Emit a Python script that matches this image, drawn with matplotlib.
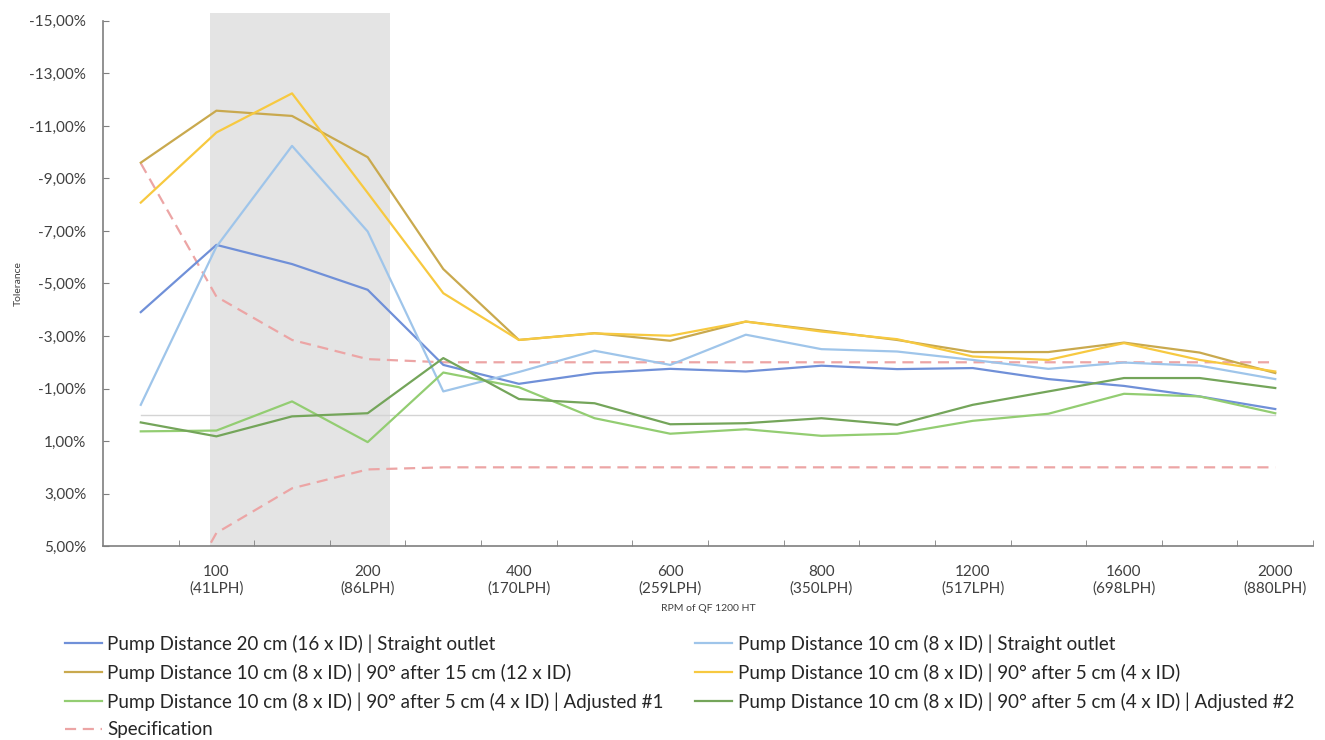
import matplotlib
matplotlib.use("Agg")
import matplotlib.pyplot as plt
from matplotlib.patches import Rectangle
from matplotlib.ticker import FixedLocator, FuncFormatter

# ---------------- data ----------------
rpm = [50, 100, 150, 200, 300, 400, 500, 600, 700, 800, 1000, 1200, 1400, 1600, 1800, 2000]
tick_labels = ["", "100\n(41LPH)", "", "200\n(86LPH)", "", "400\n(170LPH)", "", "600\n(259LPH)", "",
               "800\n(350LPH)", "", "1200\n(517LPH)", "", "1600\n(698LPH)", "", "2000\n(880LPH)"]

s_20cm_straight = [-3.91, -6.47, -5.74, -4.76, -1.90, -1.18, -1.59, -1.75, -1.65, -1.87, -1.74, -1.78, -1.36, -1.10, -0.70, -0.22]
s_10cm_straight = [-0.38, -6.40, -10.24, -6.98, -0.89, -1.63, -2.44, -1.90, -3.05, -2.50, -2.41, -2.09, -1.75, -1.99, -1.87, -1.36]
s_90_15cm = [-9.60, -11.58, -11.38, -9.81, -5.55, -2.85, -3.11, -2.82, -3.55, -3.21, -2.85, -2.39, -2.39, -2.75, -2.37, -1.59]
s_90_5cm = [-8.08, -10.75, -12.24, -8.45, -4.63, -2.85, -3.10, -3.01, -3.55, -3.17, -2.88, -2.22, -2.09, -2.73, -2.09, -1.65]
s_adj1 = [0.63, 0.60, -0.51, 1.04, -1.61, -1.05, 0.13, 0.72, 0.55, 0.80, 0.72, 0.23, -0.04, -0.80, -0.70, -0.06]
s_adj2 = [0.29, 0.82, 0.06, -0.06, -2.16, -0.60, -0.44, 0.36, 0.32, 0.13, 0.38, -0.38, -0.89, -1.40, -1.40, -1.02]
spec_upper = [-9.58, -4.50, -2.85, -2.12, -2.0, -2.0, -2.0, -2.0, -2.0, -2.0, -2.0, -2.0, -2.0, -2.0, -2.0, -2.0]
spec_lower = [9.58, 4.50, 2.80, 2.08, 2.0, 2.0, 2.0, 2.0, 2.0, 2.0, 2.0, 2.0, 2.0, 2.0, 2.0, 2.0]
zero_line = [0.0] * 16

labels = [
    "Pump Distance 20 cm (16 x ID) | Straight outlet",
    "Pump Distance 10 cm (8 x ID) | Straight outlet",
    "Pump Distance 10 cm (8 x ID) | 90° after 15 cm (12 x ID)",
    "Pump Distance 10 cm (8 x ID) | 90° after 5 cm (4 x ID)",
    "Pump Distance 10 cm (8 x ID) | 90° after 5 cm (4 x ID) | Adjusted #1",
    "Pump Distance 10 cm (8 x ID) | 90° after 5 cm (4 x ID) | Adjusted #2",
    "Specification",
]
yticks = [-15, -13, -11, -9, -7, -5, -3, -1, 1, 3, 5]

# ---------------- figure ----------------
plt.rcParams['font.family'] = ['Lato', 'DejaVu Sans']
fig = plt.figure(figsize=(13.25, 7.40), dpi=100)
ax = fig.add_axes([0.0777, 0.262, 0.9133, 0.7098])

x = list(range(len(rpm)))

# shaded region
ax.add_patch(Rectangle((0.91, 5), 3.29 - 0.91, -20.3, facecolor="#e4e4e4", edgecolor="none",
                       zorder=0, clip_on=False))

ax.plot(x, zero_line, color="#d4d4d4", lw=1.0, zorder=1)

c1, c2, c3, c4, c5, c6, cs = "#7090d8", "#9fc5ea", "#c9a94e", "#f7c940", "#93cd72", "#74a55a", "#eca5a5"
h1, = ax.plot(x, s_20cm_straight, color=c1, lw=1.6, zorder=3)
h2, = ax.plot(x, s_10cm_straight, color=c2, lw=1.6, zorder=3)
h3, = ax.plot(x, s_90_15cm, color=c3, lw=1.6, zorder=3)
h4, = ax.plot(x, s_90_5cm, color=c4, lw=1.6, zorder=3)
h5, = ax.plot(x, s_adj1, color=c5, lw=1.6, zorder=3)
h6, = ax.plot(x, s_adj2, color=c6, lw=1.6, zorder=3)
hs, = ax.plot(x, spec_upper, color=cs, lw=1.6, ls=(0, (5, 3)), zorder=2)
ax.plot(x, spec_lower, color=cs, lw=1.6, ls=(0, (5, 3)), zorder=2)

ax.set_xlim(-0.5, 15.5)
ax.set_ylim(5, -15)

for s in ["top", "right"]:
    ax.spines[s].set_visible(False)
for s in ["left", "bottom"]:
    ax.spines[s].set_color("#7f7f7f")
    ax.spines[s].set_linewidth(1.2)

ax.set_yticks(yticks)
ax.yaxis.set_major_formatter(FuncFormatter(lambda v, p: f"{v:.2f}".replace(".", ",") + "%"))
ax.tick_params(axis="y", direction="in", length=4, color="#7f7f7f", labelsize=11,
               labelcolor="#404040", pad=12)

ax.set_xticks(x)
ax.set_xticklabels(tick_labels)
ax.tick_params(axis="x", which="major", length=0, labelsize=11, labelcolor="#404040", pad=13.5)
ax.xaxis.set_minor_locator(FixedLocator([i + 0.5 for i in range(16)]))
ax.tick_params(axis="x", which="minor", direction="in", length=4, color="#7f7f7f")

ax.set_xlabel("RPM of QF 1200 HT", fontsize=7.5, color="#404040", labelpad=6)
ax.set_ylabel("Tolerance", fontsize=7.5, color="#404040", labelpad=5)

leg_kw = dict(loc="upper left", frameon=False, fontsize=13.5, handlelength=2.0,
              handletextpad=0.27, labelspacing=0.56, labelcolor="#262626",
              borderaxespad=0, borderpad=0)
leg1 = fig.legend([h1, h3, h5, hs], [labels[0], labels[2], labels[4], labels[6]],
                  bbox_to_anchor=(0.049, 0.1426), **leg_kw)
fig.legend([h2, h4, h6], [labels[1], labels[3], labels[5]],
           bbox_to_anchor=(0.5245, 0.1426), **leg_kw)

fig.savefig("out.png", dpi=100, facecolor="white")
